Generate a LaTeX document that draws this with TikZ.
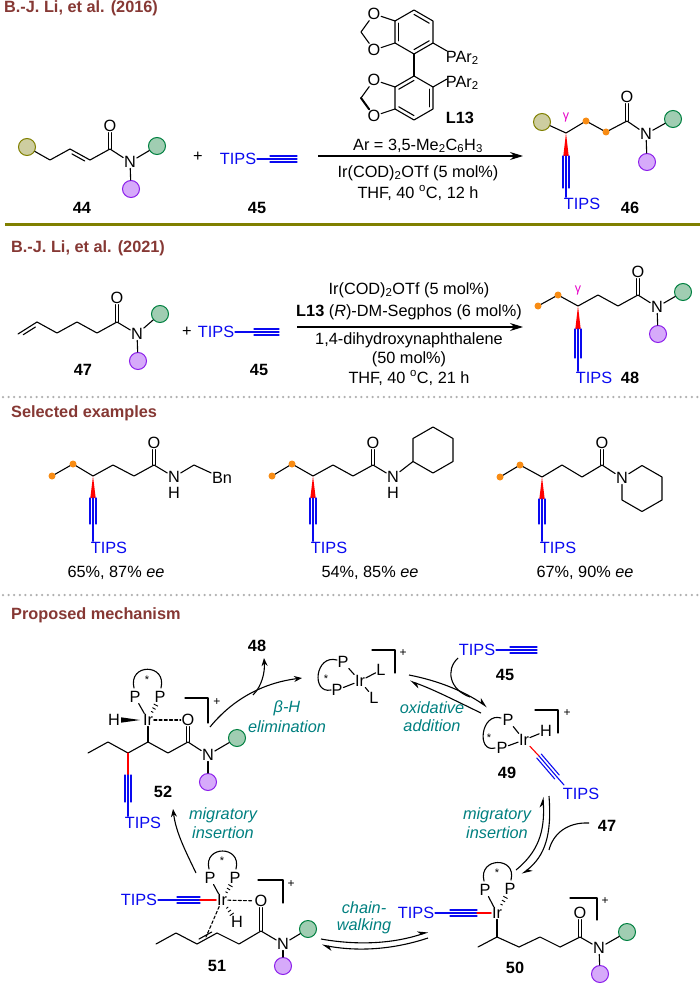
\documentclass[tikz,border=0pt]{standalone}
\usepackage{fontspec}
\setmainfont{Liberation Sans}
\usetikzlibrary{calc,arrows.meta}
\definecolor{hdrc}{RGB}{134,56,52}
\definecolor{olivec}{RGB}{128,128,0}
\definecolor{tipsblue}{RGB}{10,10,240}
\definecolor{tealc}{RGB}{0,128,128}
\definecolor{orangec}{RGB}{248,140,20}
\definecolor{magc}{RGB}{230,0,200}
\definecolor{olvf}{RGB}{205,205,160}
\definecolor{olvd}{RGB}{128,128,0}
\definecolor{grnf}{RGB}{160,205,178}
\definecolor{grnd}{RGB}{0,128,64}
\definecolor{purf}{RGB}{214,170,250}
\definecolor{purd}{RGB}{140,30,235}
\definecolor{dotc}{RGB}{175,175,175}
\newcommand{\fs}{\fontsize{16.3}{19}\selectfont}
\newcommand{\tribond}[3][tipsblue]{%
 \draw[bond,draw=#1] (#2) -- (#3);
 \draw[bond,draw=#1] ($(#2)!3pt!90:(#3)$) -- ($(#3)!3pt!-90:(#2)$);
 \draw[bond,draw=#1] ($(#2)!3pt!-90:(#3)$) -- ($(#3)!3pt!90:(#2)$);}
\newcommand{\dblin}[4]{%
 \draw[bond] (#1) -- (#2);
 \draw[bond] ($(#1)!0.18!(#2)!3.4pt!#3:(#2)$) -- ($(#2)!0.18!(#1)!3.4pt!#4:(#1)$);}
\newcommand{\dblv}[2]{%
 \draw[bond] ([xshift=-1.7pt]#1) -- ([xshift=-1.7pt]#2.south);
 \draw[bond] ([xshift=1.7pt]#1) -- ([xshift=1.7pt]#2.south);}
\newcommand{\wdg}[3][black]{\fill[#1] (#2) -- ($(#3)!2.7pt!90:(#2)$) -- ($(#3)!2.7pt!-90:(#2)$) -- cycle;}
\newcommand{\hsh}[2]{\foreach \hh/\ww in {0.35/1.2pt,0.5/1.8pt,0.65/2.4pt}{\draw[line width=0.9pt] ($(#1)!\hh!(#2)!\ww!90:(#2)$) -- ($(#1)!\hh!(#2)!\ww!-90:(#2)$);}}
\newcommand{\arom}[3]{\draw[bond] ($(#3)!0.8!(#1)$) -- ($(#3)!0.8!(#2)$);}
\begin{document}
\begin{tikzpicture}[x=1pt,y=-1pt,
 bond/.style={line width=1.1pt, line cap=round, line join=round},
 tbond/.style={bond, draw=tipsblue},
 rbond/.style={bond, draw=red},
 atom/.style={inner sep=0.7pt, font=\fs},
 tipst/.style={inner sep=0.7pt, font=\fs, text=tipsblue},
 lbl/.style={inner sep=0pt, font=\fs\bfseries},
 cond/.style={inner sep=0pt, font=\fs},
 hdr/.style={inner sep=0pt, font=\fs\bfseries, text=hdrc, anchor=west},
 mech/.style={inner sep=0pt, font=\fs\itshape, text=tealc},
 rol/.style={circle, draw=olvd, fill=olvf, line width=1pt, minimum size=17pt, inner sep=0pt},
 rgr/.style={circle, draw=grnd, fill=grnf, line width=1pt, minimum size=17pt, inner sep=0pt},
 rpu/.style={circle, draw=purd, fill=purf, line width=1pt, minimum size=17pt, inner sep=0pt},
 odot/.style={circle, fill=orangec, minimum size=7pt, inner sep=0pt},
 gam/.style={inner sep=0pt, font=\fontsize{12.5}{12}\selectfont, text=magc},
 starl/.style={inner sep=0pt, font=\fontsize{11}{11}\selectfont},
 chg/.style={inner sep=0pt, font=\fontsize{12}{12}\selectfont},
 rxn/.style={line width=1.1pt, -{Stealth[length=13pt,width=8pt]}},
 cyc/.style={line width=1.1pt, -{Stealth[length=8pt,width=6pt]}},
 hfwd/.style={line width=1.1pt, -{Stealth[left,length=9pt,width=8pt]}},
 cline/.style={line width=1.1pt},
 sepo/.style={line width=3pt, draw=olivec},
 sepd/.style={line width=2.5pt, draw=dotc, line cap=round, dash pattern=on 0pt off 5.6pt},
]
\fill[white] (0,0) rectangle (700,984);
\useasboundingbox (0,0) rectangle (700,984);

% ================= headers / separators
\node[hdr] (h1) at (4,8) {B.-J. Li, et al. (2016)};
\coordinate (s1a) at (5,225); \coordinate (s1b) at (700,225);
\draw[sepo] (s1a) -- (s1b);
\node[hdr] (h2) at (11,248) {B.-J. Li, et al. (2021)};
\coordinate (s2a) at (3,397); \coordinate (s2b) at (700,397);
\draw[sepd] (s2a) -- (s2b);
\node[hdr] (h3) at (11,413) {Selected examples};
\coordinate (s3a) at (3,595); \coordinate (s3b) at (700,595);
\draw[sepd] (s3a) -- (s3b);
\node[hdr] (h4) at (11,615) {Proposed mechanism};

% ================= reaction 2016
\node[rol] (r44) at (27,147) {};
\coordinate (c44a) at (50,160);
\coordinate (c44b) at (70,149);
\coordinate (c44c) at (90,160);
\coordinate (c44d) at (110,149);
\node[atom] (o44) at (110,126) {O};
\node[atom] (n44) at (130,162) {N};
\node[rgr] (g44) at (157,146) {};
\node[rpu] (p44) at (131,189) {};
\draw[bond] (r44) -- (c44a) -- (c44b);
\dblin{c44b}{c44c}{-90}{90}
\draw[bond] (c44c) -- (c44d) -- (n44) -- (g44);
\draw[bond] (n44) -- (p44);
\dblv{c44d}{o44}
\node[lbl] (l44) at (82,208) {44};
\node[cond] (pl1) at (198,157) {+};
\node[tipst] (t45a) at (238,159) {TIPS};
\coordinate (k45a) at (270,159); \coordinate (k45b) at (297,159);
\draw[tbond] (t45a) -- (k45a);
\tribond{k45a}{k45b}
\node[lbl] (l45a) at (257,208) {45};

\coordinate (ar1s) at (318,156); \coordinate (ar1e) at (523,156);
\draw[rxn] (ar1s) -- (ar1e);
% ligand L13
\coordinate (uc) at (414,32);
\coordinate (uT) at (414,10); \coordinate (uUR) at (433,21); \coordinate (uLR) at (433,43);
\coordinate (uB) at (414,54); \coordinate (uLL) at (395,43); \coordinate (uUL) at (395,21);
\coordinate (dc) at (414,98);
\coordinate (dT) at (414,76); \coordinate (dUR) at (433,87); \coordinate (dLR) at (433,109);
\coordinate (dB) at (414,120); \coordinate (dLL) at (395,109); \coordinate (dUL) at (395,87);
\draw[bond] (uT) -- (uUR) -- (uLR) -- (uB) -- (uLL) -- (uUL) -- cycle;
\draw[bond] (dT) -- (dUR) -- (dLR) -- (dB) -- (dLL) -- (dUL) -- cycle;
\arom{uT}{uUR}{uc} \arom{uLR}{uB}{uc} \arom{uLL}{uUL}{uc}
\arom{dUR}{dLR}{dc} \arom{dB}{dLL}{dc} \arom{dUL}{dT}{dc}
\draw[bond] (uB) -- (dT);
\node[atom] (ou1) at (374,14) {O};
\node[atom] (ou2) at (374,50) {O};
\coordinate (chu) at (361,32);
\draw[bond] (uUL) -- (ou1) -- (chu) -- (ou2) -- (uLL);
\node[atom] (od1) at (374,80) {O};
\node[atom] (od2) at (374,116) {O};
\coordinate (chd) at (361,98);
\draw[bond] (dUL) -- (od1) -- (chd);
\draw[line width=2pt, line cap=round] (chd) -- (od2);
\draw[bond] (od2) -- (dLL);
\coordinate (pb1) at (447,51); \coordinate (pb2) at (447,79);
\node[atom, anchor=west] (par1) at (445,58) {PAr\textsubscript{2}};
\node[atom, anchor=west] (par2) at (445,83) {PAr\textsubscript{2}};
\draw[bond] (uLR) -- (pb1);
\draw[bond] (dUR) -- (pb2);
\node[lbl] (l13a) at (460,118) {L13};
\node[cond] (cd1a) at (418,146) {Ar = 3,5-Me\textsubscript{2}C\textsubscript{6}H\textsubscript{3}};
\node[cond] (cd1b) at (418,173) {Ir(COD)\textsubscript{2}OTf (5 mol\%)};
\node[cond] (cd1c) at (418,193) {THF, 40 \textsuperscript{o}C, 12 h};

% product 46
\node[rol] (r46) at (542,122) {};
\coordinate (c46a) at (566,133);
\coordinate (c46b) at (586,121);
\coordinate (c46c) at (606,132);
\coordinate (c46d) at (627,121);
\node[atom] (o46) at (627,97) {O};
\node[atom] (n46) at (646,134) {N};
\node[rgr] (g46) at (673,119) {};
\node[rpu] (p46) at (647,162) {};
\draw[bond] (r46) -- (c46a) -- (c46b) -- (c46c) -- (c46d) -- (n46) -- (g46);
\draw[bond] (n46) -- (p46);
\dblv{c46d}{o46}
\node[odot] (d46a) at (c46b) {};
\node[odot] (d46b) at (c46c) {};
\node[gam] (gm46) at (566,117) {γ};
\coordinate (w46) at (566,156);
\wdg[red]{c46a}{w46}
\coordinate (k46) at (566,188);
\tribond{w46}{k46}
\node[tipst] (t46) at (582,204) {TIPS};
\draw[tbond] (k46) -- (k46 |- t46.north);
\node[lbl] (l46) at (630,208) {46};

% ================= reaction 2021
\coordinate (c47a) at (18,334);
\coordinate (c47b) at (37,322);
\coordinate (c47c) at (57,333);
\coordinate (c47d) at (77,322);
\coordinate (c47e) at (97,333);
\coordinate (c47f) at (117,322);
\node[atom] (o47) at (117,298) {O};
\node[atom] (n47) at (137,334) {N};
\node[rgr] (g47) at (160,314) {};
\node[rpu] (p47) at (138,361) {};
\dblin{c47a}{c47b}{-90}{90}
\draw[bond] (c47b) -- (c47c) -- (c47d) -- (c47e) -- (c47f) -- (n47) -- (g47);
\draw[bond] (n47) -- (p47);
\dblv{c47f}{o47}
\node[lbl] (l47) at (83,370) {47};
\node[cond] (pl2) at (187,332) {+};
\node[tipst] (t45b) at (216,332) {TIPS};
\coordinate (k45c) at (254,332); \coordinate (k45d) at (279,332);
\draw[tbond] (t45b) -- (k45c);
\tribond{k45c}{k45d}
\node[lbl] (l45b) at (259,370) {45};
\coordinate (ar2s) at (297,327); \coordinate (ar2e) at (523,327);
\draw[rxn] (ar2s) -- (ar2e);
\node[cond] (cd2a) at (409,290) {Ir(COD)\textsubscript{2}OTf (5 mol\%)};
\node[cond] (cd2b) at (409,312) {\textbf{L13} (\textit{R})-DM-Segphos (6 mol\%)};
\node[cond] (cd2c) at (409,340) {1,4-dihydroxynaphthalene};
\node[cond] (cd2d) at (409,359) {(50 mol\%)};
\node[cond] (cd2e) at (409,378) {THF, 40 \textsuperscript{o}C, 21 h};

% product 48
\coordinate (c48a) at (538,306);
\coordinate (c48b) at (558,295);
\coordinate (c48c) at (578,306);
\coordinate (c48d) at (598,295);
\coordinate (c48e) at (618,306);
\coordinate (c48f) at (638,295);
\node[atom] (o48) at (638,272) {O};
\node[atom] (n48) at (657,307) {N};
\node[rgr] (g48) at (683,292) {};
\node[rpu] (p48) at (658,334) {};
\draw[bond] (c48a) -- (c48b) -- (c48c) -- (c48d) -- (c48e) -- (c48f) -- (n48) -- (g48);
\draw[bond] (n48) -- (p48);
\dblv{c48f}{o48}
\node[odot] (d48a) at (c48a) {};
\node[odot] (d48b) at (c48b) {};
\node[gam] (gm48) at (578,290) {γ};
\coordinate (w48) at (578,329);
\wdg[red]{c48c}{w48}
\coordinate (k48) at (578,358);
\tribond{w48}{k48}
\node[tipst] (t48) at (594,378) {TIPS};
\draw[tbond] (k48) -- (k48 |- t48.north);
\node[lbl] (l48) at (630,378) {48};

% ================= selected examples
% example 1
\coordinate (e1a) at (52,476); \coordinate (e1b) at (73,464); \coordinate (e1s) at (93,476);
\coordinate (e1c) at (113,465); \coordinate (e1d) at (134,476); \coordinate (e1e) at (154,465);
\node[atom] (e1o) at (154,443) {O};
\node[atom] (e1n) at (174,477) {N};
\node[atom] (e1h) at (174,493) {H};
\coordinate (e1f) at (194,465);
\node[atom] (e1bn) at (222,478) {Bn};
\draw[bond] (e1a) -- (e1b) -- (e1s) -- (e1c) -- (e1d) -- (e1e) -- (e1n);
\draw[bond] (e1n) -- (e1f) -- (e1bn);
\dblv{e1e}{e1o}
\node[odot] (e1da) at (e1a) {}; \node[odot] (e1db) at (e1b) {};
\coordinate (e1w) at (93,498); \wdg[red]{e1s}{e1w}
\coordinate (e1k) at (93,524); \tribond{e1w}{e1k}
\node[tipst] (e1t) at (109,548) {TIPS};
\draw[tbond] (e1k) -- (e1k |- e1t.north);
\node[cond] (e1y) at (116,573) {65\%, 87\% \textit{ee}};
% example 2
\coordinate (e2a) at (272,476); \coordinate (e2b) at (292,464); \coordinate (e2s) at (313,476);
\coordinate (e2c) at (333,465); \coordinate (e2d) at (353,476); \coordinate (e2e) at (373,465);
\node[atom] (e2o) at (373,443) {O};
\node[atom] (e2n) at (393,477) {N};
\node[atom] (e2h) at (393,493) {H};
\coordinate (e2r1) at (413,461.5); \coordinate (e2r2) at (413,438.5); \coordinate (e2r3) at (433,427);
\coordinate (e2r4) at (453,438.5); \coordinate (e2r5) at (453,461.5); \coordinate (e2r6) at (433,473);
\draw[bond] (e2a) -- (e2b) -- (e2s) -- (e2c) -- (e2d) -- (e2e) -- (e2n) -- (e2r1);
\draw[bond] (e2r1) -- (e2r2) -- (e2r3) -- (e2r4) -- (e2r5) -- (e2r6) -- cycle;
\dblv{e2e}{e2o}
\node[odot] (e2da) at (e2a) {}; \node[odot] (e2db) at (e2b) {};
\coordinate (e2w) at (313,498); \wdg[red]{e2s}{e2w}
\coordinate (e2k) at (313,524); \tribond{e2w}{e2k}
\node[tipst] (e2t) at (329,548) {TIPS};
\draw[tbond] (e2k) -- (e2k |- e2t.north);
\node[cond] (e2y) at (370,573) {54\%, 85\% \textit{ee}};
% example 3
\coordinate (e3a) at (500,477); \coordinate (e3b) at (520,465); \coordinate (e3s) at (542,477);
\coordinate (e3c) at (562,465); \coordinate (e3d) at (582,477); \coordinate (e3e) at (602,465);
\node[atom] (e3o) at (602,443) {O};
\node[atom] (e3n) at (622,478) {N};
\coordinate (e3r1) at (642,465.5); \coordinate (e3r2) at (662,477); \coordinate (e3r3) at (662,500);
\coordinate (e3r4) at (642,511.5); \coordinate (e3r5) at (622,500);
\draw[bond] (e3a) -- (e3b) -- (e3s) -- (e3c) -- (e3d) -- (e3e) -- (e3n);
\draw[bond] (e3n) -- (e3r1) -- (e3r2) -- (e3r3) -- (e3r4) -- (e3r5) -- (e3n);
\dblv{e3e}{e3o}
\node[odot] (e3da) at (e3a) {}; \node[odot] (e3db) at (e3b) {};
\coordinate (e3w) at (542,499); \wdg[red]{e3s}{e3w}
\coordinate (e3k) at (542,524); \tribond{e3w}{e3k}
\node[tipst] (e3t) at (558,548) {TIPS};
\draw[tbond] (e3k) -- (e3k |- e3t.north);
\node[cond] (e3y) at (585,573) {67\%, 90\% \textit{ee}};

% ================= mechanism
% top complex
\node[atom] (p0a) at (343,662) {P};
\node[atom] (p0b) at (337,690) {P};
\node[atom] (ir0) at (360,681) {Ir};
\node[atom] (l0a) at (381,670) {L};
\node[atom] (l0b) at (374,698) {L};
\draw[bond] (p0a) -- (ir0) -- (l0a);
\draw[bond] (p0b) -- (ir0) -- (l0b);
\coordinate (a0s) at (337,660); \coordinate (a0e) at (331,690);
\draw[bond] (a0s) .. controls (315,654) and (311,694) .. (a0e);
\node[starl] (st0) at (326,679) {*};
\coordinate (b0a) at (372,650); \coordinate (b0b) at (395,650); \coordinate (b0c) at (395,673);
\draw[bond] (b0a) -- (b0b) -- (b0c);
\node[chg] (q0) at (403,653) {+};

% 45 and oxidative addition
\node[tipst] (t45c) at (477,650) {TIPS};
\coordinate (k45e) at (510,650); \coordinate (k45f) at (537,650);
\draw[tbond] (t45c) -- (k45e);
\tribond{k45e}{k45f}
\node[lbl] (l45c) at (505,675) {45};
\coordinate (oa1) at (409,675); \coordinate (oa2) at (487,707);
\coordinate (oa3) at (481,713); \coordinate (oa4) at (410,681);
\draw[hfwd] (oa1) .. controls (440,681) and (465,692) .. (oa2);
\draw[hfwd] (oa3) .. controls (458,702) and (435,690) .. (oa4);
\coordinate (oa5) at (458,658); \coordinate (oa6) at (470,697);
\draw[cline] (oa5) .. controls (445,670) and (450,690) .. (oa6);
\node[mech] (mo1) at (432,708) {oxidative};
\node[mech] (mo2) at (432,726) {addition};

% complex 49
\node[atom] (p49a) at (508,720) {P};
\node[atom] (p49b) at (502,748) {P};
\node[atom] (ir49) at (524,740) {Ir};
\node[atom] (h49) at (546,731) {H};
\draw[bond] (p49a) -- (ir49) -- (h49);
\draw[bond] (p49b) -- (ir49);
\coordinate (a49s) at (501,718); \coordinate (a49e) at (495,748);
\draw[bond] (a49s) .. controls (481,712) and (476,753) .. (a49e);
\node[starl] (st49) at (489,738) {*};
\coordinate (b49a) at (535,710); \coordinate (b49b) at (558,710); \coordinate (b49c) at (558,733);
\draw[bond] (b49a) -- (b49b) -- (b49c);
\node[chg] (q49) at (567,713) {+};
\coordinate (k49a) at (539,756); \coordinate (k49b) at (557,777); \coordinate (k49c) at (564,785);
\draw[rbond] (ir49) -- (k49a);
\tribond{k49a}{k49b}
\draw[tbond] (k49b) -- (k49c);
\node[tipst, anchor=west] (t49) at (562,794) {TIPS};
\node[lbl] (l49) at (507,773) {49};

% migratory insertion 49 -> 50
\coordinate (mi1) at (549,796); \coordinate (mi2) at (522,874);
\coordinate (mi3) at (516,870); \coordinate (mi4) at (543,797);
\draw[hfwd] (mi1) .. controls (552,835) and (545,856) .. (mi2);
\draw[hfwd] (mi3) .. controls (538,852) and (545,832) .. (mi4);
\coordinate (mi5) at (589,823); \coordinate (mi6) at (549,850);
\draw[cline] (mi5) .. controls (567,822) and (553,834) .. (mi6);
\node[lbl] (l47b) at (607,826) {47};
\node[mech] (mm1) at (497,815) {migratory};
\node[mech] (mm2) at (497,833) {insertion};

% complex 50
\node[atom] (p50a) at (485,890) {P};
\node[atom] (p50b) at (510,889) {P};
\node[atom] (ir50) at (497,913) {Ir};
\draw[bond] (p50a) -- (ir50);
\hsh{ir50}{p50b}
\coordinate (a50s) at (484,881); \coordinate (a50e) at (511,880);
\draw[bond] (a50s) .. controls (478,857) and (517,856) .. (a50e);
\node[starl] (st50) at (497,873) {*};
\node[tipst] (t50) at (416,913) {TIPS};
\coordinate (k50a) at (450,913); \coordinate (k50b) at (477,913);
\draw[tbond] (t50) -- (k50a);
\tribond{k50a}{k50b}
\draw[rbond] (k50b) -- (ir50);
\coordinate (c50a) at (478,947); \coordinate (c50b) at (497,937); \coordinate (c50c) at (519,947);
\coordinate (c50d) at (540,937); \coordinate (c50e) at (560,947); \coordinate (c50f) at (580,937);
\node[atom] (o50) at (580,913) {O};
\node[atom] (n50) at (599,948) {N};
\node[rgr] (g50) at (627,932) {};
\node[rpu] (pu50) at (600,974) {};
\draw[bond] (ir50) -- (c50b);
\draw[bond] (c50a) -- (c50b) -- (c50c) -- (c50d) -- (c50e) -- (c50f) -- (n50) -- (g50);
\draw[bond] (n50) -- (pu50);
\dblv{c50f}{o50}
\coordinate (b50a) at (570,898); \coordinate (b50b) at (597,898); \coordinate (b50c) at (597,920);
\draw[bond] (b50a) -- (b50b) -- (b50c);
\node[chg] (q50) at (605,901) {+};
\node[lbl] (l50) at (515,968) {50};

% chain walking
\coordinate (cw1) at (321,939); \coordinate (cw2) at (428,932);
\coordinate (cw3) at (428,938); \coordinate (cw4) at (322,945);
\draw[hfwd] (cw1) .. controls (360,946) and (395,943) .. (cw2);
\draw[hfwd] (cw3) .. controls (395,949) and (360,952) .. (cw4);
\node[mech] (mc1) at (364,908) {chain-};
\node[mech] (mc2) at (364,926) {walking};

% complex 51
\node[tipst] (t51) at (139,900) {TIPS};
\coordinate (k51a) at (177,900); \coordinate (k51b) at (200,900);
\node[atom] (ir51) at (222,900) {Ir};
\draw[tbond] (t51) -- (k51a);
\tribond{k51a}{k51b}
\draw[rbond] (k51b) -- (ir51);
\node[atom] (p51a) at (210,878) {P};
\node[atom] (p51b) at (235,878) {P};
\draw[bond] (p51a) -- (ir51);
\hsh{ir51}{p51b}
\coordinate (a51s) at (209,869); \coordinate (a51e) at (236,869);
\draw[bond] (a51s) .. controls (203,845) and (242,845) .. (a51e);
\node[starl] (st51) at (222,861) {*};
\node[atom] (o51) at (261,901) {O};
\node[atom] (h51) at (237,922) {H};
\draw[bond, dash pattern=on 3pt off 2.2pt] (ir51) -- (o51);
\hsh{ir51}{h51}
\coordinate (c51a) at (156,944); \coordinate (c51b) at (176,933); \coordinate (c51c) at (197,944);
\coordinate (c51d) at (217,933); \coordinate (c51e) at (239,944); \coordinate (c51f) at (261,931);
\node[atom] (n51) at (283,944) {N};
\node[rgr] (g51) at (308,929) {};
\node[rpu] (pu51) at (283,966) {};
\draw[bond] (c51a) -- (c51b) -- (c51c);
\dblin{c51c}{c51d}{90}{-90}
\draw[bond] (c51d) -- (c51e) -- (c51f) -- (n51) -- (g51);
\draw[bond] (n51) -- (pu51);
\dblv{c51f}{o51}
\coordinate (m51) at (206,937);
\draw[bond, dash pattern=on 3pt off 2.2pt] (ir51) -- (m51);
\coordinate (b51a) at (258,880); \coordinate (b51b) at (283,880); \coordinate (b51c) at (283,903);
\draw[bond] (b51a) -- (b51b) -- (b51c);
\node[chg] (q51) at (291,884) {+};
\node[lbl] (l51) at (217,966) {51};

% migratory insertion 51 -> 52
\coordinate (mj1) at (196,873); \coordinate (mj2) at (173,809);
\draw[cyc] (mj1) .. controls (186,852) and (176,833) .. (mj2);
\node[mech] (mn1) at (223,815) {migratory};
\node[mech] (mn2) at (223,833) {insertion};

% complex 52
\node[atom] (p52a) at (135,697) {P};
\node[atom] (p52b) at (160,697) {P};
\node[atom] (ir52) at (148,720) {Ir};
\node[atom] (h52) at (114,720) {H};
\node[atom] (o52) at (188,720) {O};
\draw[bond] (p52a) -- (ir52);
\hsh{ir52}{p52b}
\coordinate (a52s) at (134,688); \coordinate (a52e) at (161,688);
\draw[bond] (a52s) .. controls (128,663) and (167,663) .. (a52e);
\node[starl] (st52) at (147,680) {*};
\coordinate (w52a) at (140,720); \coordinate (w52b) at (121,720);
\wdg[black]{w52a}{w52b}
\draw[bond, dash pattern=on 3pt off 2.2pt] (ir52) -- (o52);
\coordinate (c52a) at (88,753); \coordinate (c52b) at (108,742); \coordinate (c52c) at (128,753);
\coordinate (c52d) at (148,742); \coordinate (c52e) at (168,753); \coordinate (c52f) at (188,742);
\node[atom] (n52) at (208,755) {N};
\node[rgr] (g52) at (237,738) {};
\node[rpu] (pu52) at (208,782) {};
\draw[bond] (ir52) -- (c52d);
\draw[bond] (c52a) -- (c52b) -- (c52c) -- (c52d) -- (c52e) -- (c52f) -- (n52) -- (g52);
\draw[bond] (n52) -- (pu52);
\dblv{c52f}{o52}
\coordinate (k52a) at (128,775); \coordinate (k52b) at (128,802);
\draw[rbond] (c52c) -- (k52a);
\tribond{k52a}{k52b}
\node[tipst] (t52) at (143,823) {TIPS};
\draw[tbond] (k52b) -- (k52b |- t52.north);
\coordinate (b52a) at (185,698); \coordinate (b52b) at (208,698); \coordinate (b52c) at (208,723);
\draw[bond] (b52a) -- (b52b) -- (b52c);
\node[chg] (q52) at (217,702) {+};
\node[lbl] (l52) at (163,792) {52};

% beta-H elimination
\coordinate (be1) at (210,727); \coordinate (be2) at (302,678);
\draw[cyc] (be1) .. controls (232,700) and (262,683) .. (be2);
\coordinate (be3) at (253,695); \coordinate (be4) at (264,658);
\draw[cyc] (be3) .. controls (262,686) and (265,672) .. (be4);
\node[lbl] (l48b) at (257,646) {48};
\node[mech] (mb1) at (287,708) {β-H};
\node[mech] (mb2) at (287,727) {elimination};
\end{tikzpicture}
\end{document}
